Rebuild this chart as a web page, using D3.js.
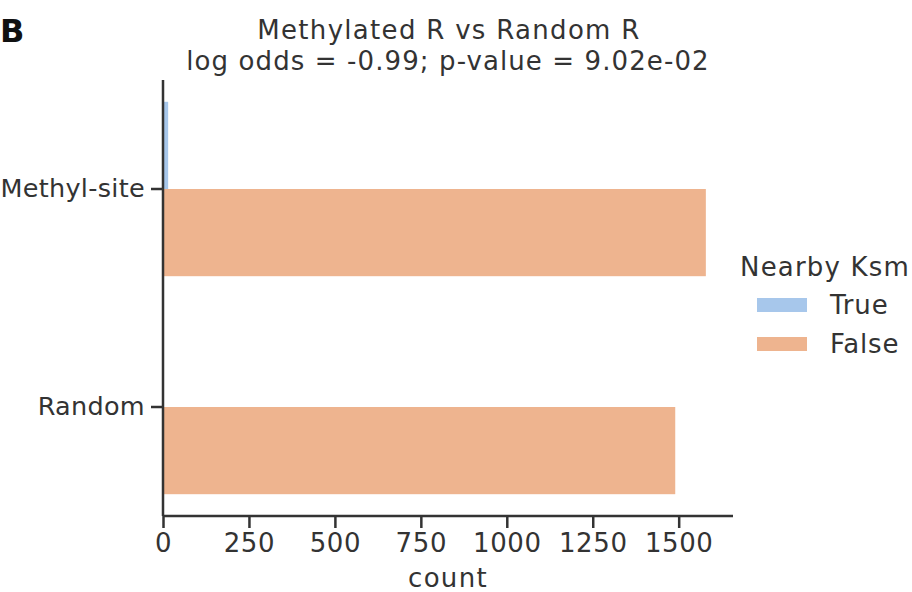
<!DOCTYPE html>
<html>
<head>
<meta charset="utf-8">
<script src="https://cdn.jsdelivr.net/npm/d3@7"></script>
<style>
  body { margin: 0; background: #fff; }
  text { font-family: "DejaVu Sans", sans-serif; fill: #333; }
</style>
</head>
<body>
<svg id="chart"></svg>
<script>
const categories = ['Methyl-site', 'Random'];
const hues = ['True', 'False'];
const trueCounts = [15, 0];
const falseCounts = [1579, 1490];
const xTicks = [0, 250, 500, 750, 1000, 1250, 1500];
const hueColors = ['#a7c7eb', '#eeb48f'];

const width = 912;
const height = 592;
const margin = { top: 80, left: 163, right: 179, bottom: 76 };
const fontSize = 26;
const ink = '#333';

const svg = d3.select('#chart').attr('width', width).attr('height', height);

const rows = [];
categories.forEach((c, i) => {
  rows.push({ cat: c, hue: 'True', value: trueCounts[i] });
  rows.push({ cat: c, hue: 'False', value: falseCounts[i] });
});

const x = d3.scaleLinear().domain([0, 1658]).range([margin.left, width - margin.right]);
const y = d3.scaleBand().domain(categories).range([margin.top, height - margin.bottom]).paddingInner(0.2).paddingOuter(0.1);
const yInner = d3.scaleBand().domain(hues).range([0, y.bandwidth()]);
const color = d3.scaleOrdinal().domain(hues).range(hueColors);

svg.append('g')
  .selectAll('rect')
  .data(rows.filter(d => d.value > 0))
  .join('rect')
  .attr('x', x(0))
  .attr('y', d => y(d.cat) + yInner(d.hue))
  .attr('width', d => x(d.value) - x(0))
  .attr('height', yInner.bandwidth())
  .attr('fill', d => color(d.hue));

// axes
const xAxis = svg.append('g')
  .attr('transform', `translate(0,${height - margin.bottom})`)
  .call(d3.axisBottom(x).tickValues(xTicks).tickFormat(d3.format('d')).tickSize(12).tickPadding(6));
const yAxis = svg.append('g')
  .attr('transform', `translate(${margin.left},0)`)
  .call(d3.axisLeft(y).tickSize(12).tickPadding(6));

[xAxis, yAxis].forEach(a => {
  a.select('.domain').attr('stroke', ink).attr('stroke-width', 2.5);
  a.selectAll('.tick line').attr('stroke', ink).attr('stroke-width', 2.5);
  a.selectAll('.tick text')
    .attr('font-size', fontSize)
    .style('font-family', '"DejaVu Sans", sans-serif')
    .attr('fill', ink);
});
xAxis.selectAll('.tick text').attr('letter-spacing', 0.6);
yAxis.selectAll('.tick text').attr('font-size', 25.5).attr('letter-spacing', 0.3);
yAxis.select('.domain').attr('d', `M0,${margin.top}V${height - margin.bottom}`);
xAxis.select('.domain').attr('d', `M${x(0)},0H${width - margin.right}`);

svg.append('text')
  .attr('x', 448)
  .attr('y', 587)
  .attr('text-anchor', 'middle')
  .attr('font-size', fontSize)
  .attr('letter-spacing', 1.3)
  .text('count');

// title
svg.append('text')
  .attr('x', 449)
  .attr('y', 39)
  .attr('text-anchor', 'middle')
  .attr('font-size', fontSize)
  .attr('letter-spacing', 1.3)
  .text('Methylated R vs Random R');
svg.append('text')
  .attr('x', 448)
  .attr('y', 70)
  .attr('text-anchor', 'middle')
  .attr('font-size', fontSize)
  .attr('letter-spacing', 1.1)
  .text('log odds = -0.99; p-value = 9.02e-02');

svg.append('text')
  .attr('x', 0)
  .attr('y', 42)
  .attr('font-size', 32)
  .attr('font-weight', 'bold')
  .style('fill', '#111')
  .text('B');

// legend
const legend = svg.append('g').attr('transform', 'translate(740,0)');
legend.append('text')
  .attr('x', 0)
  .attr('y', 276)
  .attr('font-size', fontSize)
  .attr('letter-spacing', 1.2)
  .text('Nearby Ksm');
legend.selectAll('rect')
  .data(hues)
  .join('rect')
  .attr('x', 17)
  .attr('y', (d, i) => 298 + i * 39)
  .attr('width', 50)
  .attr('height', 14)
  .attr('fill', d => color(d));
legend.selectAll('text.lab')
  .data(hues)
  .join('text')
  .attr('class', 'lab')
  .attr('x', 90)
  .attr('y', (d, i) => 314 + i * 39)
  .attr('font-size', fontSize)
  .attr('letter-spacing', 0.8)
  .text(d => d);
</script>
</body>
</html>
